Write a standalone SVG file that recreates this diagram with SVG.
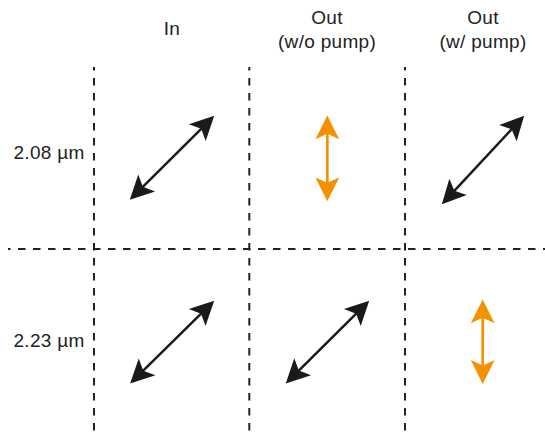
<svg xmlns="http://www.w3.org/2000/svg" width="545" height="433" viewBox="0 0 545 433">
<style>
.t{font-family:"Liberation Sans",Arial,sans-serif;font-size:19px;letter-spacing:0.3px;fill:#222;}
.c{text-anchor:middle;}
.grid{stroke:#222;stroke-width:2;stroke-dasharray:7.5 7.5;fill:none;}
.blk{stroke:#1a1a1a;stroke-width:2.5;fill:none;marker-start:url(#hk);marker-end:url(#hk);}
.org{stroke:#f39200;stroke-width:2.7;fill:none;marker-start:url(#ho);marker-end:url(#ho);}
</style>
<defs>
<marker id="hk" markerUnits="userSpaceOnUse" markerWidth="26" markerHeight="26" viewBox="-23 -12 24 24" refX="-15" refY="0" orient="auto-start-reverse">
<path d="M0,0 L-22,-11 L-17,0 L-22,11 Z" fill="#1a1a1a"/>
</marker>
<marker id="ho" markerUnits="userSpaceOnUse" markerWidth="26" markerHeight="26" viewBox="-23 -12 24 24" refX="-15" refY="0" orient="auto-start-reverse">
<path d="M0,0 L-22,-11 L-17,0 L-22,11 Z" fill="#f39200"/>
</marker>
</defs>
<rect width="545" height="433" fill="#fff"/>
<g id="grid">
<line class="grid" x1="94" y1="67" x2="94" y2="433" stroke-dashoffset="4"/>
<line class="grid" x1="249.3" y1="67" x2="249.3" y2="433" stroke-dashoffset="4"/>
<line class="grid" x1="405" y1="67" x2="405" y2="433" stroke-dashoffset="4"/>
<line class="grid" x1="8" y1="249" x2="545" y2="249" stroke-dashoffset="5"/>
</g>
<g id="headers">
<text class="t c" x="172" y="35">In</text>
<text class="t c" x="327" y="24">Out</text>
<text class="t c" x="327" y="48">(w/o pump)</text>
<text class="t c" x="483" y="24">Out</text>
<text class="t c" x="483" y="48">(w/ pump)</text>
</g>
<g id="rows">
<text class="t" x="13.5" y="159">2.08 µm</text>
<text class="t" x="13.5" y="347">2.23 µm</text>
</g>
<g id="connectors">
<line id="a-r1c1" class="blk" x1="141.3" y1="188.4" x2="202.7" y2="127.3"/>
<line id="a-r1c2" class="org" x1="327.3" y1="131.7" x2="327.3" y2="185"/>
<line id="a-r1c3" class="blk" x1="452.9" y1="192.3" x2="513.1" y2="127.7"/>
<line id="a-r2c1" class="blk" x1="141.7" y1="372.2" x2="202.6" y2="312.2"/>
<line id="a-r2c2" class="blk" x1="297.3" y1="372.1" x2="357.7" y2="312.1"/>
<line id="a-r2c3" class="org" x1="482.7" y1="315.7" x2="482.7" y2="367.7"/>
</g>
</svg>
